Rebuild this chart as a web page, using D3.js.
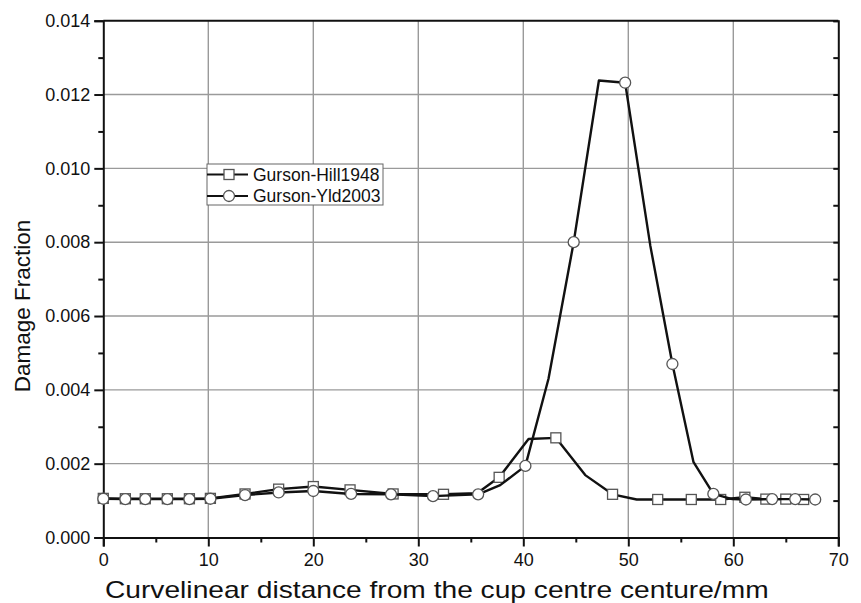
<!DOCTYPE html>
<html lang="en">
<head>
    <meta charset="UTF-8">
    <title>Damage Fraction</title>
    <style>
        body { margin: 0; background: #fff; }
        svg { display: block; }
        text { font-family: "Liberation Sans", Arial, sans-serif; fill: #111; }
    </style>
</head>
<body>

<svg id="chart" width="861" height="603"></svg>

<script src="https://d3js.org/d3.v7.min.js"></script>
<script>
    // Gurson-Hill1948 (squares)
    const hillX = [0, 2.1, 4.0, 6.1, 8.2, 10.2, 13.5, 16.7, 20.0, 23.5, 27.6, 32.4, 35.6, 37.7, 40.5, 43.1,
                   45.9, 48.5, 50.8, 52.8, 54.4, 56.0, 58.8, 61.1, 63.1, 65.0, 66.7];
    const hillY = [0.00106, 0.00105, 0.00105, 0.00105, 0.00105, 0.00106, 0.00118, 0.00131, 0.00138, 0.00129,
                   0.00118, 0.00117, 0.00120, 0.00163, 0.00267, 0.00270, 0.00169, 0.00117, 0.00103, 0.00103,
                   0.00103, 0.00103, 0.00103, 0.00109, 0.00104, 0.00104, 0.00103];
    // points drawn without a symbol
    const hillPlain = [35.6, 40.5, 45.9, 50.8, 54.4];

    // Gurson-Yld2003 (circles)
    const yldX = [0, 2.1, 4.0, 6.1, 8.2, 10.2, 13.5, 16.7, 20.0, 23.6, 27.4, 31.4, 35.7, 37.8, 40.2, 42.4,
                  44.8, 47.2, 49.7, 52.1, 54.2, 56.2, 58.1, 59.9, 61.2, 63.7, 65.9, 67.8];
    const yldY = [0.00105, 0.00104, 0.00104, 0.00104, 0.00104, 0.00105, 0.00115, 0.00122, 0.00126, 0.00118,
                  0.00117, 0.00112, 0.00117, 0.00142, 0.00194, 0.00430, 0.00800, 0.01238, 0.01232, 0.00790,
                  0.00470, 0.00205, 0.00118, 0.00104, 0.00103, 0.00104, 0.00104, 0.00103];
    const yldPlain = [37.8, 42.4, 47.2, 52.1, 56.2, 59.9];

    const xTicks = [0, 10, 20, 30, 40, 50, 60, 70];
    const yTicks = [0, 0.002, 0.004, 0.006, 0.008, 0.010, 0.012, 0.014];
    const seriesNames = ["Gurson-Hill1948", "Gurson-Yld2003"];

    const svg = d3.select("#chart");
    const margin = {top: 20.7, right: 22.7, bottom: 65.5, left: 103.3};
    const width = 861 - margin.left - margin.right,
          height = 603 - margin.top - margin.bottom;

    const x = d3.scaleLinear().domain([0, 70]).range([margin.left, margin.left + width]);
    const y = d3.scaleLinear().domain([0, 0.014]).range([margin.top + height, margin.top]);

    // Grid lines
    const grid = svg.append("g").attr("stroke", "#9a9a9a").attr("stroke-width", 1.4);
    grid.selectAll(".gx").data(xTicks.slice(1, -1)).enter().append("line")
        .attr("x1", d => x(d)).attr("x2", d => x(d))
        .attr("y1", y(0)).attr("y2", y(0.014));
    grid.selectAll(".gy").data(yTicks.slice(1, -1)).enter().append("line")
        .attr("x1", x(0)).attr("x2", x(70))
        .attr("y1", d => y(d)).attr("y2", d => y(d));

    // Axes (major + minor ticks)
    const xMinor = d3.range(5, 70, 10);
    const yMinor = d3.range(0.001, 0.014, 0.002);

    function styleAxis(g) {
        g.select(".domain").attr("stroke", "#111").attr("stroke-width", 2);
        g.selectAll(".tick line").attr("stroke", "#111").attr("stroke-width", 2);
        g.selectAll("text").style("font-size", "18px").attr("fill", "#111");
    }

    svg.append("g")
        .attr("transform", `translate(0,${y(0)})`)
        .call(d3.axisBottom(x).tickValues(xTicks).tickSize(9).tickPadding(7).tickFormat(d3.format("d")))
        .call(styleAxis);
    svg.append("g")
        .attr("transform", `translate(0,${y(0)})`)
        .call(d3.axisBottom(x).tickValues(xMinor).tickSize(5).tickFormat(""))
        .call(styleAxis)
        .call(g => g.select(".domain").remove());

    svg.append("g")
        .attr("transform", `translate(${x(0)},0)`)
        .call(d3.axisLeft(y).tickValues(yTicks).tickSize(9).tickPadding(4).tickFormat(d3.format(".3f")))
        .call(styleAxis);
    svg.append("g")
        .attr("transform", `translate(${x(0)},0)`)
        .call(d3.axisLeft(y).tickValues(yMinor).tickSize(5).tickFormat(""))
        .call(styleAxis)
        .call(g => g.select(".domain").remove());

    // Frame: top and right, with small inward ticks on the right
    svg.append("line").attr("x1", x(0)).attr("x2", x(70)).attr("y1", y(0.014)).attr("y2", y(0.014))
        .attr("stroke", "#111").attr("stroke-width", 2);
    svg.append("g")
        .attr("transform", `translate(${x(70)},0)`)
        .call(d3.axisLeft(y).tickValues(yTicks.concat(yMinor)).tickSize(5).tickFormat(""))
        .call(styleAxis);

    // Axis titles (the x title is stretched wide in the original)
    const xTitle = svg.append("text")
        .style("font-size", "23px")
        .text("Curvelinear distance from the cup centre centure/mm");
    const sx = 664 / xTitle.node().getComputedTextLength();
    xTitle.attr("transform", `translate(105,598) scale(${sx},1)`);

    svg.append("text")
        .attr("transform", "translate(30,306) rotate(-90)")
        .attr("text-anchor", "middle")
        .style("font-size", "22.5px")
        .text("Damage Fraction");

    // Series
    const line = d3.line().x(d => x(d[0])).y(d => y(d[1]));
    const hill = hillX.map((v, i) => [v, hillY[i]]);
    const yld = yldX.map((v, i) => [v, yldY[i]]);

    function drawSquare(g, px, py) {
        g.append("rect")
            .attr("x", px - 5).attr("y", py - 5)
            .attr("width", 10).attr("height", 10)
            .attr("fill", "#fff").attr("stroke", "#555").attr("stroke-width", 1.3);
    }
    function drawCircle(g, px, py) {
        g.append("circle")
            .attr("cx", px).attr("cy", py).attr("r", 5.5)
            .attr("fill", "#fff").attr("stroke", "#555").attr("stroke-width", 1.3);
    }

    const gHill = svg.append("g");
    gHill.append("path").datum(hill).attr("d", line)
        .attr("fill", "none").attr("stroke", "#111").attr("stroke-width", 2.4).attr("stroke-linejoin", "round");
    hill.filter(d => !hillPlain.includes(d[0])).forEach(d => drawSquare(gHill, x(d[0]), y(d[1])));

    const gYld = svg.append("g");
    gYld.append("path").datum(yld).attr("d", line)
        .attr("fill", "none").attr("stroke", "#111").attr("stroke-width", 2.4).attr("stroke-linejoin", "round");
    yld.filter(d => !yldPlain.includes(d[0])).forEach(d => drawCircle(gYld, x(d[0]), y(d[1])));

    // Legend
    const legend = svg.append("g").attr("transform", "translate(207,164)");
    legend.append("rect")
        .attr("width", 176).attr("height", 41)
        .attr("fill", "#fff").attr("stroke", "#666").attr("stroke-width", 1);
    seriesNames.forEach((name, i) => {
        const ly = 10.5 + i * 21.5;
        legend.append("line").attr("x1", 0).attr("x2", 41).attr("y1", ly).attr("y2", ly)
            .attr("stroke", "#111").attr("stroke-width", 2.2);
        if (i === 0) drawSquare(legend, 22, ly); else drawCircle(legend, 22, ly);
        legend.append("text")
            .attr("x", 46).attr("y", ly + 6)
            .style("font-size", "17.5px")
            .text(name);
    });
</script>
</body>
</html>
